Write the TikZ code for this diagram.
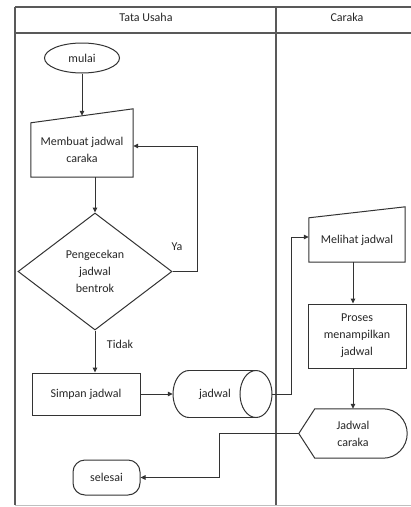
\documentclass[tikz,border=0pt]{standalone}
\usepackage{fontspec}
\setmainfont{Carlito}
\usetikzlibrary{shapes.geometric,arrows.meta,calc}
\begin{document}
\begin{tikzpicture}[x=1pt,y=-1pt,
  line/.style={draw=black!80, line width=1pt},
  arr/.style={line, -{Triangle[length=5pt,width=4.5pt]}},
  txt/.style={font=\fontsize{12}{17}\selectfont, align=center, text=black!85},
  box/.style={txt, draw=black!80, line width=1pt, rectangle, inner sep=0pt},
  lane/.style={draw=black!65, line width=1.2pt}]
\useasboundingbox (0,0) rectangle (411,507);
% swimlanes
\draw[lane] (15,7) -- (411,7);
\draw[lane] (15,33) -- (411,33);
\draw[lane] (15,7) -- (15,505);
\draw[lane] (276,7) -- (276,505);
\draw[draw=black!25, line width=1pt] (15,505) -- (411,505);
\node[txt] (h1) at (146,17) {Tata Usaha};
\node[txt] (h2) at (347,17) {Caraka};
% nodes
\node[txt, ellipse, draw=black!80, line width=1pt, minimum width=75pt, minimum height=30pt, inner sep=0pt] (mulai) at (82,58) {mulai};
\node[txt, minimum width=102pt, minimum height=54pt, inner sep=0pt] (mb) at (82,150) {Membuat jadwal\\caraka};
\draw[line] (mb.south west) -- (mb.south east) -- ($(mb.north east)+(0,-14)$) -- (mb.north west) -- cycle;
\node[txt, diamond, draw=black!80, line width=1pt, minimum width=154pt, minimum height=117pt, inner sep=0pt] (dia) at (95,271.5) {Pengecekan\\jadwal\\bentrok};
\node[box, minimum width=108pt, minimum height=42pt] (simpan) at (86,394) {Simpan jadwal};
\node[txt, minimum width=99pt, minimum height=47pt, inner sep=0pt] (db) at (222.5,394) {jadwal\hspace{15pt}};
\draw[line] (189,370.5) -- (256,370.5) (256,417.5) -- (189,417.5);
\draw[line] (189,370.5) .. controls (180.2,370.5) and (173,381) .. (173,394) .. controls (173,407) and (180.2,417.5) .. (189,417.5);
\draw[line] (256,394) ellipse [x radius=16, y radius=23.5];
\node[txt, minimum width=96pt, minimum height=44pt, inner sep=0pt] (mel) at (357,240) {Melihat jadwal};
\draw[line] (mel.south west) -- (mel.south east) -- ($(mel.north east)+(0,-11)$) -- (mel.north west) -- cycle;
\node[box, minimum width=98pt, minimum height=64pt] (pro) at (357,336) {Proses\\menampilkan\\jadwal};
\node[txt, minimum width=108pt, minimum height=49pt, inner sep=0pt] (disp) at (353,433.5) {Jadwal\\caraka};
\draw[line] (disp.west) -- ($(disp.north west)+(16,0)$) -- ($(disp.north east)+(-24,0)$)
  .. controls ($(disp.north east)+(-10.8,0)$) and ($(disp.east)+(0,-13.5)$) .. (disp.east)
  .. controls ($(disp.east)+(0,13.5)$) and ($(disp.south east)+(-10.8,0)$) .. ($(disp.south east)+(-24,0)$)
  -- ($(disp.south west)+(16,0)$) -- cycle;
\node[txt, draw=black!80, line width=1pt, rounded corners=12pt, minimum width=67pt, minimum height=35pt, inner sep=0pt] (sel) at (106.5,477.5) {selesai};
% connectors
\draw[arr] (mulai.south) -- ($(mb.north)+(0,-7)$);
\draw[arr] (mb.south -| dia.north) -- (dia.north);
\draw[arr] (dia.east) -- ++(25,0) |- ($(mb.east)+(0,-4)$);
\node[txt] (ya) at (177,247) {Ya};
\draw[arr] (dia.south) -- (dia.south |- simpan.north);
\node[txt] (tidak) at (120,344) {Tidak};
\draw[arr] (simpan.east) -- (db.west);
\draw[arr] (db.east) -- ++(19,0) |- ($(mel.west)+(0,-3)$);
\draw[arr] ($(mel.south)+(-4,0)$) -- ($(pro.north)+(-4,0)$);
\draw[arr] (pro.south -| disp.north) -- (disp.north);
\draw[arr] (disp.west) -- ++(-79,0) |- (sel.east);
\end{tikzpicture}
\end{document}
